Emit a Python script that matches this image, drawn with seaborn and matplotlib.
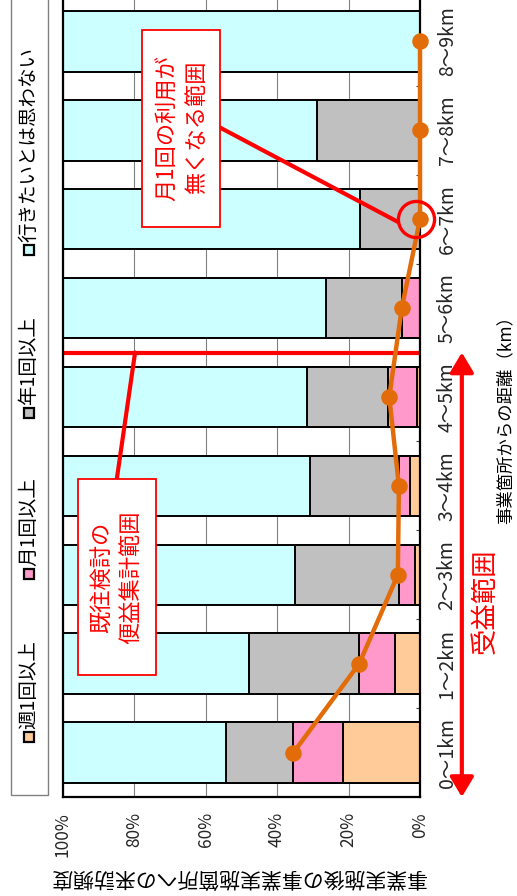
import numpy as np
import matplotlib
matplotlib.use("Agg")
import matplotlib.pyplot as plt
import seaborn as sns
from matplotlib.patches import Rectangle
from matplotlib.ticker import FixedLocator
import matplotlib.transforms as mtransforms

# data (% of respondents)
categories = ["0～1km", "1～2km", "2～3km", "3～4km", "4～5km",
              "5～6km", "6～7km", "7～8km", "8～9km"]
weekly = [21.5, 7.0, 1.4, 2.8, 0.9, 0.0, 0.0, 0.0, 0.0]
monthly = [13.9, 10.0, 4.6, 3.0, 8.0, 5.1, 0.0, 0.0, 0.0]
yearly = [18.9, 30.8, 28.9, 24.9, 22.7, 21.3, 16.8, 28.7, 0.0]
monthly_or_more = [35.4, 17.0, 6.2, 5.9, 8.6, 5.1, 0.0, 0.0, 0.0]
pct_ticks = [0, 20, 40, 60, 80, 100]
series_names = ["週1回以上", "月1回以上", "年1回以上", "行きたいとは思わない"]
series_colors = ["#FFCC99", "#FF99CC", "#C0C0C0", "#CCFFFF"]

sns.set_theme(style="white")
plt.rcParams["font.family"] = ["Noto Sans CJK JP", "DejaVu Sans"]

# cumulative shares from 0 % (the chart is turned on its side)
cum_week = np.array(weekly)
cum_month = cum_week + np.array(monthly)
cum_year = cum_month + np.array(yearly)
cum_all = np.full(len(categories), 100.0)

fig = plt.figure(figsize=(5.17, 8.96), dpi=100)
ax = fig.add_axes([0.1209, 0.1105, 0.6915, 0.8929])

for vals, col in zip([cum_all, cum_year, cum_month, cum_week], series_colors[::-1]):
    sns.barplot(x=vals, y=categories, order=categories, orient="y", color=col,
                saturation=1, width=0.68, edgecolor="black", linewidth=1.4, ax=ax)

sns.pointplot(x=monthly_or_more, y=categories, order=categories, orient="y",
              color="#E36C0A", errorbar=None, markers="o", markersize=9.5,
              linewidth=3.2, ax=ax)
for ln in ax.lines:
    ln.set_clip_on(False)
    ln.set_zorder(3)

ax.set_xlim(100, 0)
ax.set_ylim(-0.5, len(categories) - 0.5)
ax.set_xlabel("")
ax.set_ylabel("")

# grid + frame
ax.set_axisbelow(True)
ax.xaxis.grid(True, color="#808080", lw=0.8)
ax.yaxis.grid(False)
for sp in ax.spines.values():
    sp.set_visible(True)
    sp.set_color("black")
    sp.set_linewidth(1.6)

ax.set_xticks(pct_ticks)
ax.set_xticklabels([f"{t}%" for t in pct_ticks], rotation=90, fontsize=12.5)
ax.tick_params(axis="x", length=0, pad=11)

ax.yaxis.tick_right()
ax.set_yticks(range(len(categories)))
ax.set_yticklabels(categories, rotation=90, fontsize=14, ha="left", va="center")
ax.yaxis.set_minor_locator(FixedLocator(np.arange(0.5, len(categories) - 1, 1.0)))
ax.tick_params(axis="y", which="major", length=0, pad=12)
ax.tick_params(axis="y", which="minor", left=False, right=True, direction="in",
               length=3, width=0.8, color="#404040")

# annotations
red = "#FF0000"
ax.axhline(4.5, color=red, lw=3, zorder=2.5)

ax.add_patch(Rectangle((73.8, 0.87), 21.9, 2.21, facecolor="white",
                       edgecolor=red, lw=1.3, zorder=5))
ax.text(84.8, 1.97, "既往検討の\n便益集計範囲", color=red, fontsize=16,
        rotation=90, ha="center", va="center", multialignment="center",
        linespacing=1.3, zorder=6)
ax.plot([84.8, 79.7], [3.08, 4.5], color=red, lw=3, zorder=4)

ax.add_patch(Rectangle((55.9, 5.91), 21.9, 2.22, facecolor="white",
                       edgecolor=red, lw=1.3, zorder=5))
ax.text(66.6, 7.03, "月1回の利用が\n無くなる範囲", color=red, fontsize=16,
        rotation=90, ha="center", va="center", multialignment="center",
        linespacing=1.3, zorder=6)
ax.plot([55.9, 6.2], [7.03, 5.97], color=red, lw=3, zorder=4)
ax.plot([1.2], [6.0], marker="o", ms=26, mfc="none", mec=red, mew=2.4,
        clip_on=False, zorder=7)

# benefit range arrow on the right
trans = mtransforms.blended_transform_factory(ax.transAxes, ax.transData)
ax.annotate("", xy=(1.117, -0.5), xytext=(1.117, 4.5), xycoords=trans,
            textcoords=trans, annotation_clip=False,
            arrowprops=dict(arrowstyle="<|-|>,head_length=0.75,head_width=0.45",
                            color=red, lw=3, mutation_scale=16,
                            shrinkA=0, shrinkB=0))
ax.text(1.183, 1.7, "受益範囲", transform=trans, color=red, fontsize=19,
        rotation=90, ha="center", va="center")

# axis titles
fig.text(238 / 517, 1 - 876 / 896, "事業実施後の事業実施箇所への来訪頻度",
         rotation=180, ha="center", va="center", fontsize=15, color="black")
fig.text(505 / 517, 1 - 415 / 896, "事業箇所からの距離（km）",
         rotation=90, ha="center", va="center", fontsize=12.5, color="black")

# legend, drawn sideways on the left
W, H = 517.0, 896.0
fig.add_artist(Rectangle((10.7 / W, 1 - 795 / H), 37 / W, 810 / H,
                         transform=fig.transFigure, facecolor="white",
                         edgecolor="#808080", lw=1.0))
legend_y = [737, 574, 413, 250]
for name, col, py in zip(series_names, series_colors, legend_y):
    fig.add_artist(Rectangle(((29 - 5) / W, 1 - (py + 5) / H), 10 / W, 10 / H,
                             transform=fig.transFigure, facecolor=col,
                             edgecolor="black", lw=1.6))
    fig.text(29 / W, 1 - (py - 8) / H, name, rotation=90, ha="center",
             va="bottom", fontsize=14, color="black")

fig.savefig("out.png", dpi=100)
